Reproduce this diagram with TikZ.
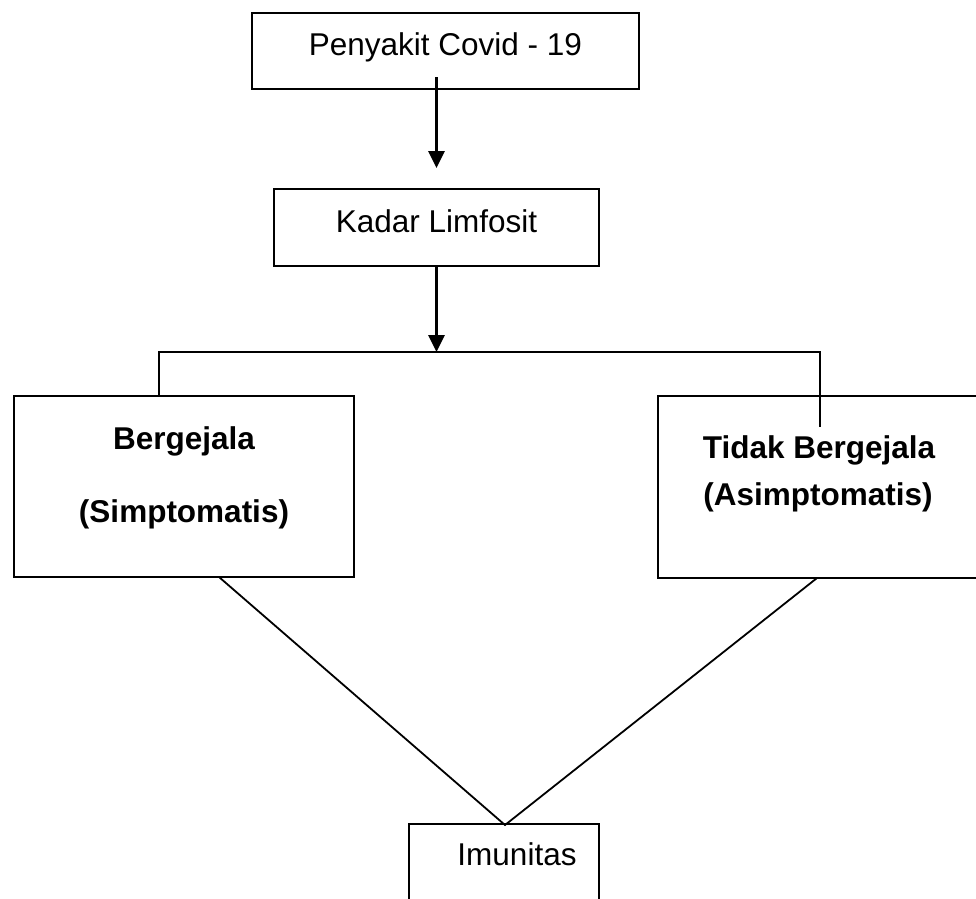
\documentclass[tikz,border=0pt]{standalone}
\usepackage{fontspec}
\setmainfont{Liberation Sans}
\usetikzlibrary{arrows.meta}
\tikzset{
  boxshape/.style={draw=black, line width=2.5pt, rectangle, inner sep=0pt, outer sep=0pt},
  lbl/.style={anchor=base, inner sep=0pt, outer sep=0pt, font=\fontsize{31.5}{38}\selectfont},
  blbl/.style={lbl, font=\fontsize{31.5}{38}\selectfont\bfseries},
  arr/.style={line width=3pt, -{Triangle[width=16pt,length=17pt]}},
  conn/.style={line width=1.8pt}
}
\begin{document}
\begin{tikzpicture}[x=1pt,y=-1pt]
\useasboundingbox (0,0) rectangle (976,898);
\begin{scope}
\clip (0,0) rectangle (976,898);
\node[boxshape, minimum width=387pt, minimum height=76pt] (b1) at (445.5,51) {};
\node[boxshape, minimum width=325pt, minimum height=77pt] (b2) at (436.5,227.5) {};
\node[boxshape, minimum width=340pt, minimum height=181pt] (l) at (184,486.5) {};
\node[boxshape, minimum width=342pt, minimum height=182pt] (r) at (829,487) {};
\node[boxshape, minimum width=190pt, minimum height=112pt] (b) at (504,880) {};
\end{scope}
\node[lbl] (t1) at (445.5,55) {Penyakit Covid - 19};
\node[lbl] (t2) at (436.5,232) {Kadar Limfosit};
\node[blbl] (tl1) at (184,449) {Bergejala};
\node[blbl] (tl2) at (184,522) {(Simptomatis)};
\node[blbl] (tr1) at (819,458) {Tidak Bergejala};
\node[blbl] (tr2) at (818,505) {(Asimptomatis)};
\node[lbl] (tb) at (517,865) {Imunitas};
\coordinate (split) at (436.5,352);
\coordinate (jl) at (159,352);
\coordinate (jr) at (820,352);
\coordinate (apex) at (505,825);
\draw[arr] ([yshift=12pt]b1.south -| b2.north) -- ([yshift=21pt]b2.north);
\draw[arr] (b2.south) -- (split);
\draw[conn] (jl |- l.north) -- (jl) -- (jr) -- ([yshift=-31pt]jr |- r.north);
\draw[conn] ([xshift=35pt]l.south) -- (apex) -- ([xshift=-12pt]r.south);
\end{tikzpicture}
\end{document}
